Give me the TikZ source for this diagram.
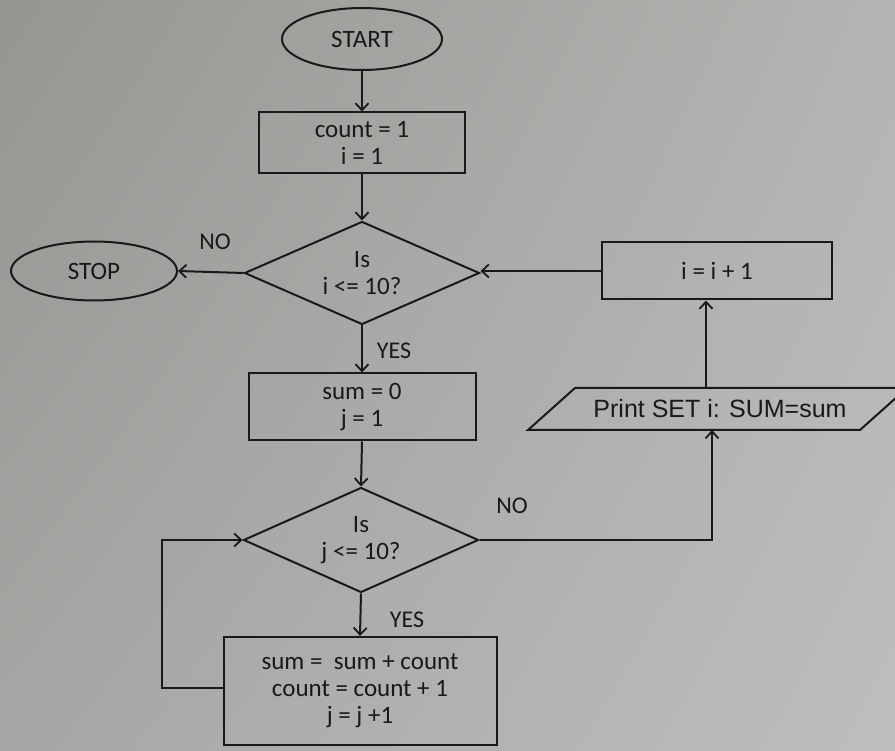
\documentclass[tikz,border=0pt]{standalone}
\usepackage{fontspec}
\setmainfont{Carlito}
\newfontfamily\arialf{Liberation Sans}
\usetikzlibrary{shapes.geometric,arrows.meta,shadings}
\definecolor{bgUL}{RGB}{150,149,146}
\definecolor{bgUR}{RGB}{180,180,178}
\definecolor{bgLL}{RGB}{166,166,164}
\definecolor{bgLR}{RGB}{190,190,190}
\definecolor{ink}{RGB}{25,25,25}
\tikzset{
  txt/.style={font=\fontsize{25}{27}\selectfont,text=ink},
  box/.style={txt,draw=ink,line width=2pt,rectangle,inner sep=0pt,align=center},
  oval/.style={txt,draw=ink,line width=2pt,ellipse,inner sep=0pt},
  dia/.style={draw=ink,line width=2pt,diamond,inner sep=0pt},
  diatext/.style={txt,align=center,inner sep=0pt},
  iotext/.style={font=\arialf\fontsize{25}{27}\selectfont,text=ink,inner sep=0pt},
  shapeline/.style={draw=ink,line width=2pt,line join=miter},
  conn/.style={draw=ink,line width=2pt,-{Straight Barb[length=7pt,width=13pt,line width=1.8pt]}},
  lab/.style={font=\fontsize{24}{26}\selectfont,text=ink}
}
\begin{document}
\begin{tikzpicture}[x=1pt,y=-1pt]
\shade[upper left=bgUL,upper right=bgUR,lower left=bgLL,lower right=bgLR] (0,0) rectangle (895,751);
\useasboundingbox (0,0) rectangle (895,751);

\node[oval,minimum width=160pt,minimum height=62pt] (start) at (362,39) {START};
\node[box,minimum width=206pt,minimum height=61pt] (init) at (362,143) {count = 1\\i = 1};
\node[dia,minimum width=235pt,minimum height=103pt] (d1) at (362,273) {};
\node[diatext] (d1t) at (d1.center) {Is\\i <= 10?};
\node[oval,minimum width=166pt,minimum height=59pt] (stop) at (94,271) {STOP};
\node[box,minimum width=230pt,minimum height=57pt] (inc) at (717,271) {i = i + 1};
\node[box,minimum width=227pt,minimum height=67pt] (sum0) at (362,407) {sum = 0\\j = 1};
\node[dia,minimum width=235pt,minimum height=105pt] (d2) at (361,540) {};
\node[diatext] (d2t) at (d2.center) {Is\\j <= 10?};
\node[box,minimum width=273pt,minimum height=108pt] (body) at (360,691) {sum =\ \ sum + count\\count = count + 1\\j = j +1};

% parallelogram (output)
\coordinate (pTL) at (575,388);
\coordinate (pTR) at (907,388);
\coordinate (pBR) at (860,430);
\coordinate (pBL) at (528,430);
\draw[shapeline] (pTL) -- (pTR) -- (pBR) -- (pBL) -- cycle;
\node[iotext] (print) at (720,409) {Print SET i: SUM=sum};
\coordinate (pin) at (712,430);
\coordinate (pout) at (706,388);

\coordinate (c1) at (162,688);
\coordinate (c2) at (162,540);
\coordinate (c3) at (712,540);

\draw[conn] (start.south) -- (init.north);
\draw[conn] (init.south) -- (d1.north);
\draw[conn] (d1.west) -- (stop.east);
\draw[conn] (inc.west) -- (d1.east |- inc.west);
\draw[conn] (pout) -- (inc.south -| pout);
\draw[conn] (d1.south) -- (sum0.north);
\draw[conn] (sum0.south) -- (d2.north);
\draw[conn] (d2.south) -- (body.north);
\draw[conn] (body.west |- c1) -- (c1) -- (c2) -- (d2.west);
\draw[conn] (d2.east) -- (c3) -- (pin);

\node[lab] (no1) at (215,242) {NO};
\node[lab] (yes1) at (394,351) {YES};
\node[lab] (no2) at (512,506) {NO};
\node[lab] (yes2) at (407,620) {YES};
\end{tikzpicture}
\end{document}
